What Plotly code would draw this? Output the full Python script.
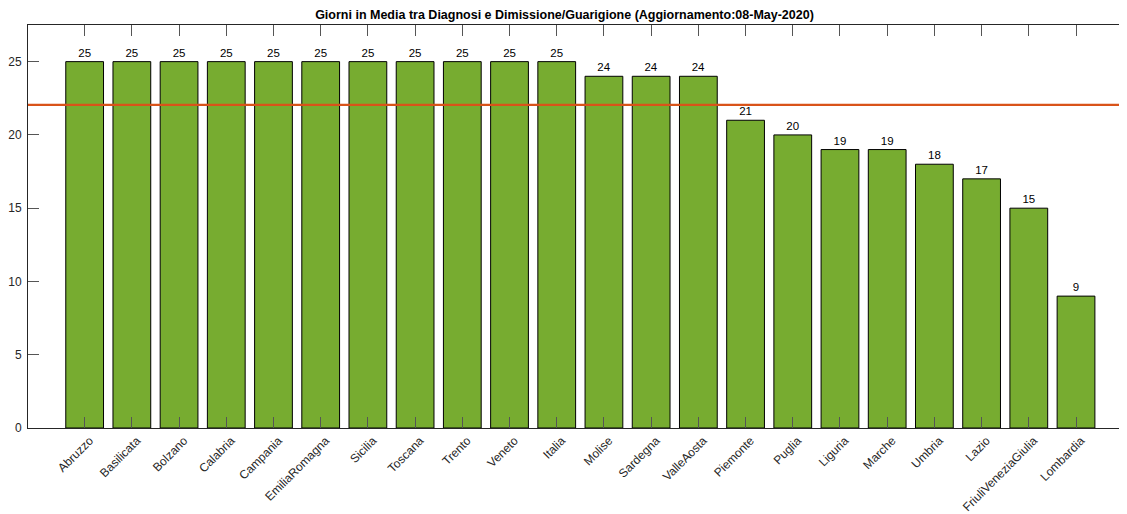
import plotly.graph_objects as go

regions = ["Abruzzo", "Basilicata", "Bolzano", "Calabria", "Campania", "EmiliaRomagna",
           "Sicilia", "Toscana", "Trento", "Veneto", "Italia", "Molise", "Sardegna",
           "ValleAosta", "Piemonte", "Puglia", "Liguria", "Marche", "Umbria", "Lazio",
           "FriuliVeneziaGiulia", "Lombardia"]
days = [25, 25, 25, 25, 25, 25, 25, 25, 25, 25, 25, 24, 24, 24, 21, 20, 19, 19, 18, 17, 15, 9]
mean_days = 22.05
y_ticks = [0, 5, 10, 15, 20, 25]
title = "Giorni in Media tra Diagnosi e Dimissione/Guarigione (Aggiornamento:08-May-2020)"

FONT = "Liberation Sans, Arial, Helvetica, sans-serif"
AX = "#262626"
W, H = 1119, 506  # page body has an 8px default margin

fig = go.Figure()
fig.add_trace(go.Bar(
    x=regions, y=days, width=0.8,
    marker=dict(color="#77AC30", line=dict(color="#000000", width=1)),
    text=[str(v) for v in days], textposition="outside",
    textfont=dict(family=FONT, size=11.5, color="#000000"),
    cliponaxis=False, showlegend=False,
))
# invisible companion trace so that the right-hand tick axis is drawn
fig.add_trace(go.Scatter(
    x=[regions[-1]], y=[days[-1]], yaxis="y2", mode="markers",
    marker=dict(opacity=0), hoverinfo="skip", showlegend=False,
))
fig.add_shape(type="line", xref="paper", yref="y", x0=0, x1=1, y0=mean_days, y1=mean_days,
              line=dict(color="#D95319", width=2.2))

fig.update_layout(
    width=W, height=H,
    margin=dict(l=20, r=0, t=17, b=86, pad=0),
    paper_bgcolor="white", plot_bgcolor="white",
    font=dict(family=FONT, size=11, color=AX),
    title=dict(text="<b>" + title + "</b>", font=dict(family=FONT, size=12.5, color="#000000"),
               xref="container", x=556.5 / W, xanchor="center",
               yref="container", y=1 - 7 / H, yanchor="middle"),
    bargap=0.2,
    yaxis2=dict(overlaying="y", side="right", anchor="x", range=[0, 27.5], tickvals=y_ticks,
                showline=False, showgrid=False, zeroline=False, showticklabels=False,
                ticks="inside", ticklen=6, tickcolor="#555555", tickwidth=1),
)
fig.update_xaxes(
    range=[-1.2, 22.08], showline=True, linecolor=AX, linewidth=1, mirror="ticks",
    ticks="inside", ticklen=11, tickcolor="#555555", tickwidth=1, automargin=False,
    tickangle=-45, tickfont=dict(family=FONT, size=12, color=AX), showgrid=False, zeroline=False,
    ticklabelshift=5,
)
fig.update_layout(yaxis=dict(
    range=[0, 27.5], tickvals=y_ticks, showline=True, linecolor=AX, linewidth=1, mirror=False,
    ticks="inside", ticklen=11, tickcolor="#555555", tickwidth=1, automargin=False,
    tickfont=dict(family=FONT, size=12, color=AX), showgrid=False, zeroline=False,
    ticklabelstandoff=3,
))
fig.write_html("out.html")
